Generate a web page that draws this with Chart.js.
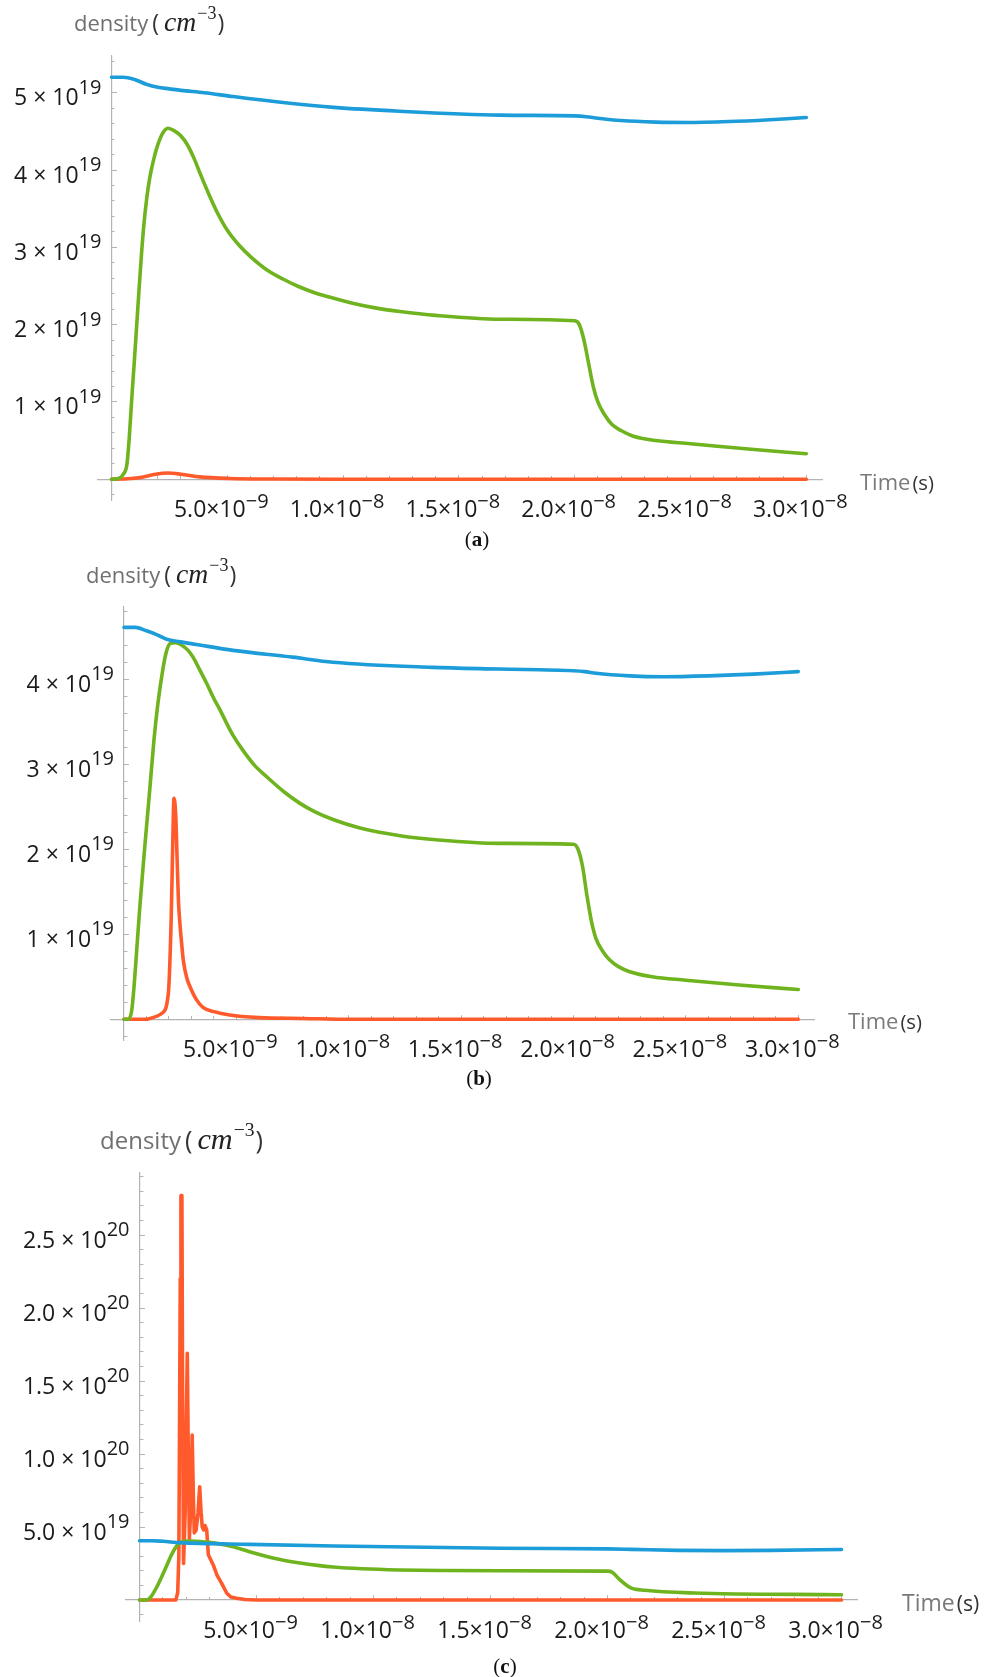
<!DOCTYPE html>
<html lang="en">
<head>
    <meta charset="UTF-8">
    <title>density vs time</title>
    <style>
        * { box-sizing: border-box; }
        body { margin: 0; background: #fff; }
        .page { position: relative; width: 995px; height: 1677px; overflow: hidden; background: #fff; }
        .panel { position: absolute; left: 0; width: 995px; }
        .panel canvas { display: block; }
        .lab { position: absolute; white-space: nowrap; line-height: 1; }
        .lab span, .lab sup, .lab i, .lab b { line-height: 0; }
        .ylab { font-family: "Open Sans"; color: #707070; }
        .ylab .u { color: #333; margin-left: 4px; font-size: 1.05em; }
        .ylab i { font-family: "Liberation Serif"; font-size: 1.2em; color: #222; padding: 0 1px 0 5px; }
        .ylab sup { font-family: "Liberation Serif"; font-size: 0.78em; color: #222; vertical-align: 0.62em; padding-right: 1px; }
        .tlab { font-family: "Open Sans"; color: #7a7a7a; }
        .tlab .s { color: #333; font-size: 0.92em; margin-left: 2px; }
        .cap { font-family: "Liberation Serif"; font-size: 21px; color: #111; text-align: center; width: 100px; }
    </style>
</head>
<body>
<div class="page">
    <div class="panel" style="top:0px"><canvas id="chartA" width="995" height="545"></canvas></div>
    <div class="panel" style="top:545px"><canvas id="chartB" width="995" height="540"></canvas></div>
    <div class="panel" style="top:1085px"><canvas id="chartC" width="995" height="592"></canvas></div>

    <div class="lab ylab" style="left:74px;top:10.5px;font-size:22px">density<span class="u">(<i>cm</i><sup>−3</sup>)</span></div>
    <div class="lab tlab" style="left:860px;top:469.5px;font-size:22px">Time<span class="s">(s)</span></div>
    <div class="lab cap" style="left:427px;top:529px">(<b>a</b>)</div>

    <div class="lab ylab" style="left:86px;top:562.5px;font-size:22px">density<span class="u">(<i>cm</i><sup>−3</sup>)</span></div>
    <div class="lab tlab" style="left:848px;top:1009px;font-size:22px">Time<span class="s">(s)</span></div>
    <div class="lab cap" style="left:429px;top:1068px">(<b>b</b>)</div>

    <div class="lab ylab" style="left:100px;top:1127.5px;font-size:24px">density<span class="u">(<i>cm</i><sup>−3</sup>)</span></div>
    <div class="lab tlab" style="left:902px;top:1591px;font-size:23px">Time<span class="s">(s)</span></div>
    <div class="lab cap" style="left:455px;top:1656px">(<b>c</b>)</div>
</div>

<script src="https://cdnjs.cloudflare.com/ajax/libs/Chart.js/4.4.1/chart.umd.min.js"></script>
<script>
    // time in ns, density in 1e19 cm^-3

    // (a)
    const tBlueA = [0, 0.5, 1, 1.5, 2, 2.5, 3, 4, 5.25, 7.5, 9.6, 12.45, 16.8, 20, 20.5, 21, 22, 23.5, 25, 27, 29, 30];
    const nBlueA = [5.20, 5.20, 5.17, 5.11, 5.07, 5.05, 5.03, 5.00, 4.95, 4.87, 4.81, 4.76, 4.71, 4.70, 4.69, 4.67, 4.64, 4.62, 4.615, 4.63, 4.66, 4.68];
    const tGreenA = [0, 0.3, 0.5, 0.67, 0.77, 0.87, 0.98, 1.09, 1.2, 1.3, 1.4, 1.52, 1.63, 1.74, 1.85, 1.96, 2.2, 2.44, 2.7, 3.0, 3.27, 3.55, 3.82, 4.2, 4.55, 5.0, 5.5, 6.0, 6.7, 7.4, 8.1, 8.8, 9.6, 10.5, 11.5, 12.45, 14, 16.8, 20.0, 20.2, 20.4, 20.6, 20.8, 21.0, 21.3, 21.6, 22.0, 22.5, 23.5, 25, 27.5, 30];
    const nGreenA = [0, 0.01, 0.06, 0.2, 0.55, 1.02, 1.5, 2.0, 2.5, 2.93, 3.3, 3.63, 3.86, 4.03, 4.17, 4.29, 4.47, 4.54, 4.51, 4.44, 4.33, 4.16, 3.96, 3.69, 3.46, 3.22, 3.03, 2.88, 2.71, 2.59, 2.49, 2.41, 2.34, 2.27, 2.21, 2.17, 2.12, 2.07, 2.05, 2.0, 1.8, 1.5, 1.2, 1.0, 0.83, 0.71, 0.63, 0.56, 0.5, 0.46, 0.39, 0.33];
    const tRedA = [0, 0.5, 1.0, 1.37, 1.9, 2.44, 3.0, 3.82, 5.1, 7, 10, 30];
    const nRedA = [0, 0.003, 0.012, 0.03, 0.065, 0.08, 0.065, 0.03, 0.01, 0.003, 0, 0];

    // (b)
    const tBlueB = [0, 0.5, 1.0, 1.5, 1.9, 2.5, 3.2, 4.85, 7.5, 9.3, 13.7, 16.7, 20, 20.5, 21, 22.5, 24, 26, 28, 30];
    const nBlueB = [4.61, 4.61, 4.57, 4.52, 4.47, 4.44, 4.41, 4.34, 4.26, 4.20, 4.14, 4.12, 4.10, 4.09, 4.07, 4.04, 4.03, 4.04, 4.06, 4.09];
    const tGreenB = [0, 0.18, 0.34, 0.45, 0.56, 0.71, 0.93, 1.16, 1.33, 1.51, 1.73, 1.88, 2.05, 2.3, 2.57, 2.85, 3.07, 3.35, 3.68, 4.0, 4.27, 4.55, 4.85, 5.3, 5.8, 6.36, 7.1, 7.83, 8.5, 9.3, 10.5, 12.28, 14, 16.7, 20.0, 20.2, 20.4, 20.6, 20.8, 21.0, 21.3, 21.6, 22.0, 22.5, 23.5, 25, 27.5, 30];
    const nGreenB = [0, 0, 0.1, 0.4, 0.8, 1.35, 2.05, 2.75, 3.28, 3.72, 4.12, 4.32, 4.42, 4.43, 4.40, 4.34, 4.26, 4.12, 3.95, 3.77, 3.64, 3.49, 3.34, 3.16, 2.99, 2.85, 2.68, 2.54, 2.44, 2.35, 2.25, 2.16, 2.11, 2.07, 2.06, 2.0, 1.8, 1.45, 1.15, 0.95, 0.8, 0.7, 0.62, 0.56, 0.5, 0.46, 0.4, 0.35];
    const tRedB = [0, 1.0, 1.15, 1.68, 1.97, 2.10, 2.17, 2.22, 2.30, 2.36, 2.42, 2.48, 2.56, 2.64, 2.8, 2.94, 3.2, 3.51, 4.0, 4.7, 6, 8, 10, 30];
    const nRedB = [0, 0, 0.01, 0.07, 0.3, 1.2, 2.1, 2.6, 2.4, 1.9, 1.4, 1.15, 0.9, 0.69, 0.48, 0.38, 0.24, 0.14, 0.09, 0.05, 0.02, 0.01, 0, 0];

    // (c)
    const tBlueC = [0, 0.5, 1.0, 1.73, 4.7, 8.3, 15.4, 20, 21, 23, 25, 27, 30];
    const nBlueC = [4.06, 4.06, 4.02, 3.93, 3.81, 3.70, 3.54, 3.50, 3.47, 3.40, 3.38, 3.40, 3.46];
    const tGreenC = [0, 0.31, 0.5, 0.74, 0.95, 1.16, 1.35, 1.52, 1.65, 1.8, 2.0, 2.2, 2.6, 3.3, 4.0, 4.7, 5.4, 6.1, 6.86, 7.6, 8.27, 9.5, 11.1, 13, 15.4, 20.0, 20.2, 20.5, 21.0, 21.6, 23.7, 30];
    const nGreenC = [0, 0, 0.25, 0.9, 1.6, 2.35, 3.05, 3.55, 3.82, 3.97, 4.03, 4.03, 4.0, 3.88, 3.65, 3.3, 3.0, 2.74, 2.53, 2.37, 2.26, 2.14, 2.06, 2.02, 2.0, 1.98, 1.9, 1.43, 0.83, 0.67, 0.48, 0.36];
    const tRedC = [0, 1.55, 1.63, 1.68, 1.71, 1.74, 1.77, 1.81, 1.84, 1.88, 1.95, 2.04, 2.09, 2.13, 2.18, 2.25, 2.30, 2.34, 2.42, 2.50, 2.57, 2.63, 2.68, 2.74, 2.80, 2.87, 2.94, 3.15, 3.31, 3.51, 3.73, 3.91, 4.15, 4.5, 5, 30];
    const nRedC = [0, 0, 0.5, 3, 12, 22, 27.7, 27.7, 14, 2.5, 6, 16.9, 9, 4.2, 6, 11.3, 7, 4.6, 4.8, 6, 7.76, 6, 5.0, 4.8, 5.1, 4.8, 3.1, 2.4, 1.7, 1.14, 0.46, 0.2, 0.12, 0.03, 0, 0];

    // tick labels
    const xTickVals = [5e-9, 1e-8, 1.5e-8, 2e-8, 2.5e-8, 3e-8];
    const xTickText = ["5.0×10", "1.0×10", "1.5×10", "2.0×10", "2.5×10", "3.0×10"];
    const xTickExp = ["−9", "−8", "−8", "−8", "−8", "−8"];
    const yTickValsA = [1e19, 2e19, 3e19, 4e19, 5e19];
    const yTickTextA = ["1 × 10", "2 × 10", "3 × 10", "4 × 10", "5 × 10"];
    const yTickExpA = ["19", "19", "19", "19", "19"];
    const yTickValsB = [1e19, 2e19, 3e19, 4e19];
    const yTickTextB = ["1 × 10", "2 × 10", "3 × 10", "4 × 10"];
    const yTickExpB = ["19", "19", "19", "19"];
    const yTickValsC = [5e19, 1e20, 1.5e20, 2e20, 2.5e20];
    const yTickTextC = ["5.0 × 10", "1.0 × 10", "1.5 × 10", "2.0 × 10", "2.5 × 10"];
    const yTickExpC = ["19", "20", "20", "20", "20"];

    const BLUE = "#1c9cd8";
    const GREEN = "#6fb31e";
    const RED = "#ff5a2b";
    const AXIS = "#b3b3b3";
    const FONT = '"Open Sans", "DejaVu Sans", sans-serif';

    const toPoints = (t, n) => t.map((v, i) => ({ x: v * 1e-9, y: n[i] * 1e19 }));
    const zip3 = (a, b, c) => a.map((v, i) => [v, b[i], c[i]]);

    // minor tick values, skipping the majors
    function minorTicks(from, to, step, every, unit) {
        const out = [];
        for (let k = Math.round(from / step); k * step <= to + 1e-9; k++) {
            if (k !== 0 && k % every !== 0) out.push(k * step * unit);
        }
        return out;
    }

    // tick labels with real superscripts
    const supTicks = {
        id: "supTicks",
        afterDraw(chart, args, opts) {
            const ctx = chart.ctx;
            const xs = chart.scales.x, ys = chart.scales.y;
            const x0 = xs.getPixelForValue(0), y0 = ys.getPixelForValue(0);
            const main = "23px " + FONT, sup = "20px " + FONT;
            ctx.save();
            ctx.fillStyle = "#1b1b1b";
            ctx.textAlign = "left";
            ctx.textBaseline = "alphabetic";
            opts.x.forEach(([v, m, e]) => {
                ctx.font = main; const w1 = ctx.measureText(m).width;
                ctx.font = sup; const w2 = ctx.measureText(e).width;
                const left = xs.getPixelForValue(v) - (w1 + w2) / 2 - 6;
                ctx.font = main; ctx.fillText(m, left, y0 + 38);
                ctx.font = sup; ctx.fillText(e, left + w1, y0 + 29);
            });
            opts.y.forEach(([v, m, e]) => {
                const py = ys.getPixelForValue(v);
                ctx.font = sup; const w2 = ctx.measureText(e).width;
                ctx.font = main; const w1 = ctx.measureText(m).width;
                const right = x0 - 10;
                ctx.font = main; ctx.fillText(m, right - w2 - w1, py + 12.5);
                ctx.font = sup; ctx.fillText(e, right - w2, py + 1);
            });
            ctx.restore();
        }
    };

    function axes(L) {
        const setTicks = (vals) => (s) => { s.ticks = vals.map(v => ({ value: v })); };
        const flat = (s) => { if (s.isHorizontal()) s.height = 0; else s.width = 0; };
        const base = (min, max) => ({ type: "linear", min: min, max: max, ticks: { display: false }, afterFit: flat });
        return {
            x: Object.assign(base(L.xMin, L.xMax), {
                position: { y: 0 },
                afterBuildTicks: setTicks(L.xMajor),
                grid: { drawOnChartArea: false, tickLength: -5, tickColor: AXIS, tickWidth: 1 },
                border: { color: AXIS, width: 1.2 },
            }),
            xm: Object.assign(base(L.xMin, L.xMax), {
                position: { y: 0 },
                afterBuildTicks: setTicks(L.xMinor),
                grid: { drawOnChartArea: false, tickLength: -3, tickColor: AXIS, tickWidth: 1 },
                border: { display: false },
            }),
            y: Object.assign(base(L.yMin, L.yMax), {
                position: { x: 0 },
                afterBuildTicks: setTicks(L.yMajor),
                grid: { drawOnChartArea: false, tickLength: -6, tickColor: AXIS, tickWidth: 1 },
                border: { color: AXIS, width: 1.2 },
            }),
            ym: Object.assign(base(L.yMin, L.yMax), {
                position: { x: 0 },
                afterBuildTicks: setTicks(L.yMinor),
                grid: { drawOnChartArea: false, tickLength: -3.5, tickColor: AXIS, tickWidth: 1 },
                border: { display: false },
            }),
        };
    }

    function line(points, color, sharp) {
        return {
            data: points,
            borderColor: color,
            borderWidth: 3.6,
            pointRadius: 0,
            tension: 0,
            cubicInterpolationMode: sharp ? "default" : "monotone",
            borderJoinStyle: "round",
            borderCapStyle: "round",
        };
    }

    function makeChart(id, datasets, L) {
        new Chart(document.getElementById(id), {
            type: "line",
            data: { datasets: datasets },
            options: {
                responsive: false,
                animation: false,
                events: [],
                layout: { padding: L.pad },
                scales: axes(L),
                plugins: {
                    legend: { display: false },
                    tooltip: { enabled: false },
                    supTicks: { x: L.xLabels, y: L.yLabels },
                },
            },
            plugins: [supTicks],
        });
    }

    const xMajor = xTickVals;
    const xMinor = minorTicks(1, 30, 1, 5, 1e-9);

    makeChart("chartA", [
        line(toPoints(tBlueA, nBlueA), BLUE),
        line(toPoints(tGreenA, nGreenA), GREEN),
        line(toPoints(tRedA, nRedA), RED),
    ], {
        pad: { left: 97.6, right: 172.5, top: 55.6, bottom: 44.9 },
        xMin: -0.6e-9, xMax: 30.7e-9, yMin: -0.27e19, yMax: 5.48e19,
        xMajor: xMajor, xMinor: xMinor,
        yMajor: yTickValsA, yMinor: minorTicks(-0.2, 5.4, 0.2, 5, 1e19),
        xLabels: zip3(xTickVals, xTickText, xTickExp),
        yLabels: zip3(yTickValsA, yTickTextA, yTickExpA),
    });

    makeChart("chartB", [
        line(toPoints(tBlueB, nBlueB), BLUE),
        line(toPoints(tGreenB, nGreenB), GREEN),
        line(toPoints(tRedB, nRedB), RED),
    ], {
        pad: { left: 110.1, right: 181, top: 62, bottom: 44.45 },
        xMin: -0.62e-9, xMax: 30.7e-9, yMin: -0.25e19, yMax: 4.85e19,
        xMajor: xMajor, xMinor: xMinor,
        yMajor: yTickValsB, yMinor: minorTicks(-0.2, 4.8, 0.2, 5, 1e19),
        xLabels: zip3(xTickVals, xTickText, xTickExp),
        yLabels: zip3(yTickValsB, yTickTextB, yTickExpB),
    });

    makeChart("chartC", [
        line(toPoints(tBlueC, nBlueC), BLUE),
        line(toPoints(tGreenC, nGreenC), GREEN),
        line(toPoints(tRedC, nRedC), RED, true),
    ], {
        pad: { left: 125.5, right: 137.1, top: 88, bottom: 55.1 },
        xMin: -0.6e-9, xMax: 30.7e-9, yMin: -1.5e19, yMax: 29.25e19,
        xMajor: xMajor, xMinor: xMinor,
        yMajor: yTickValsC, yMinor: minorTicks(-1, 29, 1, 5, 1e19),
        xLabels: zip3(xTickVals, xTickText, xTickExp),
        yLabels: zip3(yTickValsC, yTickTextC, yTickExpC),
    });
</script>
</body>
</html>
